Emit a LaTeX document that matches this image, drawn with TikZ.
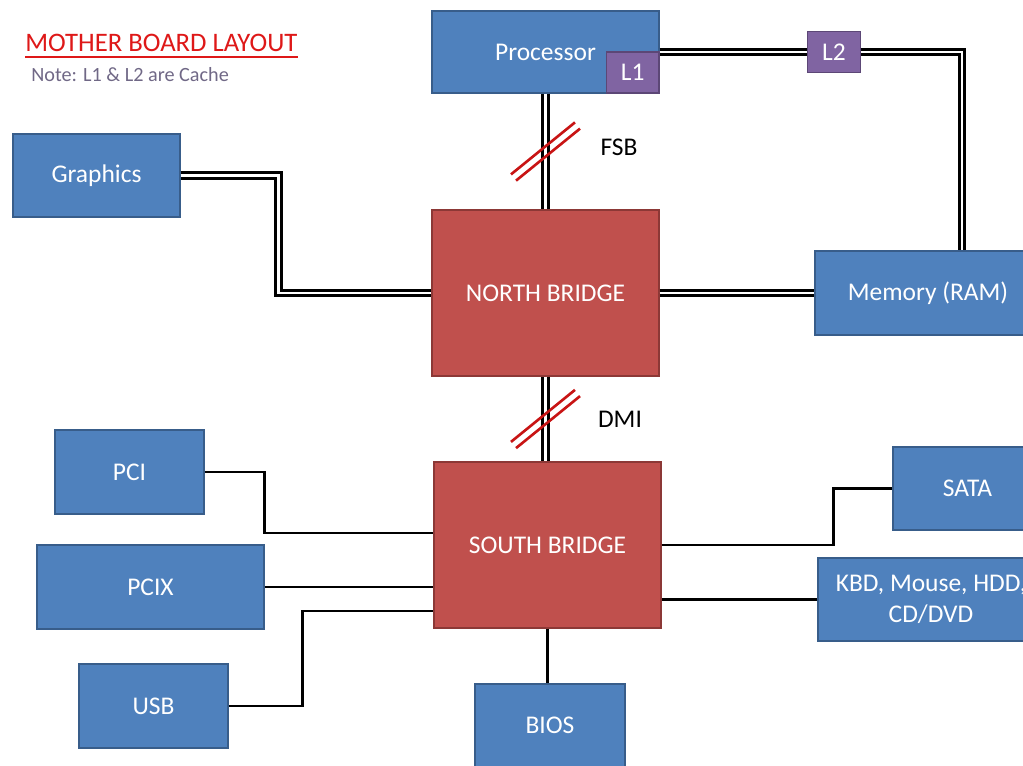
\documentclass[tikz,border=0pt]{standalone}
\usepackage{fontspec}
\setmainfont{Carlito}
\usepackage{xcolor}
\usetikzlibrary{calc}
\definecolor{boxblue}{RGB}{79,129,189}
\definecolor{boxblueline}{RGB}{56,93,138}
\definecolor{bridgered}{RGB}{192,80,77}
\definecolor{bridgeredline}{RGB}{140,56,54}
\definecolor{cachepurple}{RGB}{128,100,162}
\definecolor{cachepurpleline}{RGB}{92,71,118}
\definecolor{titlered}{RGB}{222,24,24}
\definecolor{notegray}{RGB}{112,104,134}
\definecolor{slashred}{RGB}{200,20,20}

\begin{document}
\begin{tikzpicture}[x=0.02cm, y=-0.02cm,
	blk/.style={draw=boxblueline, fill=boxblue, line width=0.8pt, text=white, inner sep=0pt, font=\fontsize{14.5}{17.5}\selectfont},
	bridge/.style={blk, draw=bridgeredline, fill=bridgered},
	cache/.style={blk, draw=cachepurpleline, fill=cachepurple, minimum width=1.05cm, minimum height=0.82cm},
	bus/.style={draw=black, line width=1.6pt, double=white, double distance=1.6pt},
	wire/.style={draw=black, line width=1.6pt},
	slash/.style={draw=slashred, line width=1.5pt},
	lbl/.style={font=\fontsize{14.5}{17.5}\selectfont}]
					\useasboundingbox (0,0) rectangle (1023,766);
					\clip (0,0) rectangle (1023,766);
					% Title and note:
					\node[anchor=base west, text=titlered, font=\fontsize{15.2}{18}\selectfont, inner sep=0pt] (title) at (25,52) {MOTHER BOARD LAYOUT};
					\draw[titlered, line width=1.1pt] ([yshift=-3pt]title.base west) -- ([yshift=-3pt]title.base east);
					\node[anchor=base west, text=notegray, font=\fontsize{11.5}{14}\selectfont, inner sep=0pt] (note) at (31,82) {Note: L1 \& L2 are Cache};
					% Blocks:
					\node[blk, minimum width=4.54cm, minimum height=1.64cm] (proc) at (545.5,52) {Processor};
					\node[cache, anchor=south east] (l1) at (proc.south east) {L1};
					\node[cache] (l2) at (834,52) {L2};
					\node[blk, minimum width=3.34cm, minimum height=1.66cm] (gfx) at (96.5,175.5) {Graphics};
					\node[bridge, minimum width=4.54cm, minimum height=3.32cm] (nb) at (545.5,293) {NORTH BRIDGE};
					\node[blk, minimum width=4.52cm, minimum height=1.68cm] (mem) at (928,293) {Memory (RAM)};
					\node[bridge, minimum width=4.54cm, minimum height=3.32cm] (sb) at (547.5,545) {SOUTH BRIDGE};
					\node[blk, minimum width=2.98cm, minimum height=1.68cm] (pci) at (129.5,472) {PCI};
					\node[blk, minimum width=4.54cm, minimum height=1.68cm] (pcix) at (150.5,587) {PCIX};
					\node[blk, minimum width=2.98cm, minimum height=1.68cm] (usb) at (153.5,706) {USB};
					\node[blk, minimum width=3.0cm, minimum height=1.66cm] (bios) at (550,725.5) {BIOS};
					\node[blk, minimum width=2.98cm, minimum height=1.66cm] (sata) at (967.5,488.5) {SATA};
					\node[blk, minimum width=4.52cm, minimum height=1.66cm, align=center] (kbd) at (931,599.5) {KBD, Mouse, HDD,\\CD/DVD};
					% Buses (double lines):
					\draw[bus] (proc.south) -- (nb.north);
					\draw[bus] (nb.south) -- (nb.south |- sb.north);
					\draw[bus] (proc.east) -- (proc.east -| l2.west);
					\draw[bus] (l2.east) -| ([xshift=0.68cm]mem.north);
					\draw[bus] (nb.east) -- (mem.west);
					\draw[bus] (gfx.east) -- ++(1.96cm,0) |- (nb.west);
					% Single wires:
					\draw[wire] (pci.east) -- ++(1.2cm,0) |- ([yshift=0.24cm]sb.west);
					\draw[wire] (pcix.east) -- (pcix.east -| sb.west);
					\draw[wire] (usb.east) -- ++(1.48cm,0) |- ([yshift=-1.32cm]sb.west);
					\draw[wire] (sb.east) -- ++(3.44cm,0) |- (sata.west);
					\draw[wire] (kbd.west) -- (kbd.west -| sb.east);
					\draw[wire] (sb.south) -- (sb.south |- bios.north);
					% Bus marks and labels:
					\coordinate (fsb) at ($(proc.south)!0.5!(nb.north)$);
					\coordinate (dmi) at ($(nb.south)!0.5!(nb.south |- sb.north)$);
					\foreach \c in {fsb,dmi}
						\foreach \o in {-4,4}
							\draw[slash] ([shift={(-32+0.63*\o,26+0.78*\o)}]\c) -- ++(64,-52);
					\node[lbl] (fsblbl) at (619,147) {FSB};
					\node[lbl] (dmilbl) at (620,419) {DMI};
				\end{tikzpicture}
\end{document}
